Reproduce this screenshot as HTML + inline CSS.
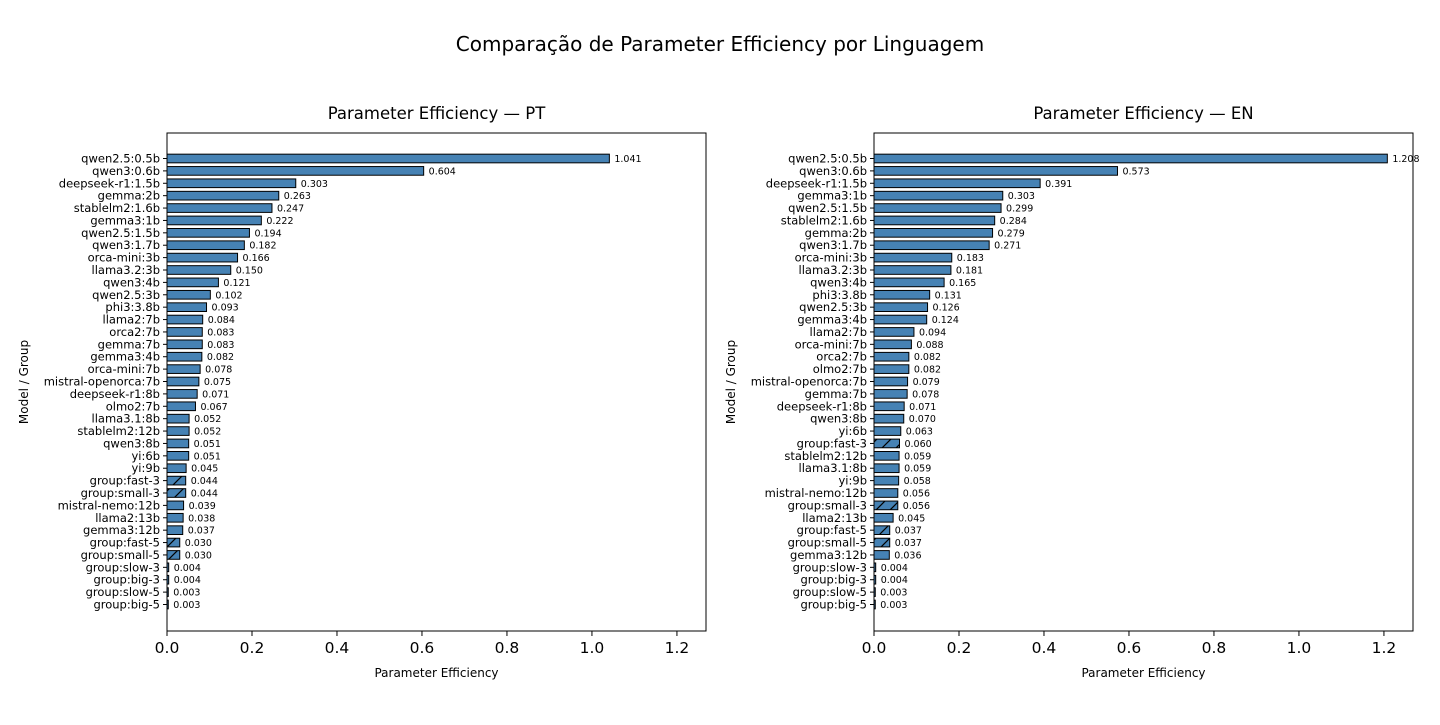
<!DOCTYPE html>
<html><head><meta charset="utf-8"><style>
body{margin:0;background:#fff;}
svg text{font-family:"DejaVu Sans","Liberation Sans",sans-serif;}
</style></head><body>
<svg id="chart" width="1440" height="720" xmlns="http://www.w3.org/2000/svg">
<defs>
<pattern id="hatch" patternUnits="userSpaceOnUse" width="14" height="14">
<rect width="14" height="14" fill="#4682b4"/>
<path d="M-1,1 l2,-2 M0,14 l14,-14 M13,15 l2,-2" stroke="#000" stroke-width="1.2"/>
</pattern>
</defs>
<text x="720" y="51" text-anchor="middle" font-size="20">Comparação de Parameter Efficiency por Linguagem</text>
</svg>
<script>
const ptCats=["qwen2.5:0.5b","qwen3:0.6b","deepseek-r1:1.5b","gemma:2b","stablelm2:1.6b","gemma3:1b","qwen2.5:1.5b","qwen3:1.7b","orca-mini:3b","llama3.2:3b","qwen3:4b","qwen2.5:3b","phi3:3.8b","llama2:7b","orca2:7b","gemma:7b","gemma3:4b","orca-mini:7b","mistral-openorca:7b","deepseek-r1:8b","olmo2:7b","llama3.1:8b","stablelm2:12b","qwen3:8b","yi:6b","yi:9b","group:fast-3","group:small-3","mistral-nemo:12b","llama2:13b","gemma3:12b","group:fast-5","group:small-5","group:slow-3","group:big-3","group:slow-5","group:big-5"];
const ptVals=[1.041,0.604,0.303,0.263,0.247,0.222,0.194,0.182,0.166,0.150,0.121,0.102,0.093,0.084,0.083,0.083,0.082,0.078,0.075,0.071,0.067,0.052,0.052,0.051,0.051,0.045,0.044,0.044,0.039,0.038,0.037,0.030,0.030,0.004,0.004,0.003,0.003];
const enCats=["qwen2.5:0.5b","qwen3:0.6b","deepseek-r1:1.5b","gemma3:1b","qwen2.5:1.5b","stablelm2:1.6b","gemma:2b","qwen3:1.7b","orca-mini:3b","llama3.2:3b","qwen3:4b","phi3:3.8b","qwen2.5:3b","gemma3:4b","llama2:7b","orca-mini:7b","orca2:7b","olmo2:7b","mistral-openorca:7b","gemma:7b","deepseek-r1:8b","qwen3:8b","yi:6b","group:fast-3","stablelm2:12b","llama3.1:8b","yi:9b","mistral-nemo:12b","group:small-3","llama2:13b","group:fast-5","group:small-5","gemma3:12b","group:slow-3","group:big-3","group:slow-5","group:big-5"];
const enVals=[1.208,0.573,0.391,0.303,0.299,0.284,0.279,0.271,0.183,0.181,0.165,0.131,0.126,0.124,0.094,0.088,0.082,0.082,0.079,0.078,0.071,0.070,0.063,0.060,0.059,0.059,0.058,0.056,0.056,0.045,0.037,0.037,0.036,0.004,0.004,0.003,0.003];
const xTicks=[0,0.2,0.4,0.6,0.8,1.0,1.2];
const xTickLabels=["0.0","0.2","0.4","0.6","0.8","1.0","1.2"];
const svg=document.getElementById('chart');
const NS="http://www.w3.org/2000/svg";
function mk(tag,attrs,text){const e=document.createElementNS(NS,tag);for(const k in attrs)e.setAttribute(k,attrs[k]);if(text!==undefined)e.textContent=text;svg.appendChild(e);return e;}
const xMax=Math.max(...ptVals,...enVals)*1.05;
function panel(left,cats,vals,title,key){
  const right=left+539, top=133, bottom=631;
  const xs=v=>left+v/xMax*(right-left);
  const n=cats.length;
  const step=(604.5-158.5)/(n-1);
  const ys=i=>158.5+i*step;
  let t=mk('text',{x:(left+right)/2,y:119,'text-anchor':'middle','font-size':16.5},title);
  
  
  cats.forEach((c,i)=>{
    const y=ys(i), h=step*0.7, w=xs(vals[i])-left;
    const r=mk('rect',{x:left,y:y-h/2,width:w,height:h,fill:c.startsWith('group:fast')||c.startsWith('group:small')?'url(#hatch)':'#4682b4',stroke:'#000','stroke-width':1});
    
    
    const v=mk('text',{x:xs(vals[i])+5,y:y+3.5,'font-size':9.5},vals[i].toFixed(3));
    
    
    mk('line',{x1:left-4,x2:left,y1:y,y2:y,stroke:'#000'});
    const l=mk('text',{x:left-7,y:y+4,'text-anchor':'end','font-size':11.5},c);
    
    
  });
  const f=mk('rect',{x:left,y:top,width:right-left,height:bottom-top,fill:'none',stroke:'#000','stroke-width':1});
  
  
  xTicks.forEach((v,i)=>{
    const x=xs(v);
    mk('line',{x1:x,x2:x,y1:bottom,y2:bottom+5,stroke:'#000'});
    const tl=mk('text',{x:x,y:bottom+22,'text-anchor':'middle','font-size':15.5},xTickLabels[i]);
    
    
  });
  const xt=mk('text',{x:(left+right)/2,y:677,'text-anchor':'middle','font-size':12},'Parameter Efficiency');
  
  
  const yt=mk('text',{x:0,y:0,'text-anchor':'middle','font-size':12,transform:`translate(${left-139},382) rotate(-90)`},'Model / Group');
  
  
}
panel(167,ptCats,ptVals,'Parameter Efficiency — PT','pt');
panel(874,enCats,enVals,'Parameter Efficiency — EN','en');
</script>
</body></html>
